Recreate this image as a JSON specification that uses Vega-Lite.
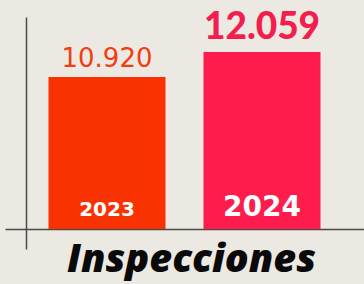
{
  "$schema": "https://vega.github.io/schema/vega-lite/v6.json",
  "width": 359,
  "height": 284,
  "autosize": {"type": "none"},
  "padding": {"left": 5, "top": 0, "right": 0, "bottom": 0},
  "background": "#ECE8E2",
  "data": {"values": [
    {"year": "2023", "value": 10920},
    {"year": "2024", "value": 12059}
  ]},
  "title": {
    "text": "Inspecciones",
    "orient": "bottom",
    "anchor": "middle",
    "frame": "group",
    "font": "Open Sans",
    "fontSize": 39.5,
    "fontWeight": 800,
    "fontStyle": "italic",
    "color": "#0a0a0a",
    "baseline": "alphabetic",
    "offset": -12,
    "dx": 7
  },
  "encoding": {
    "x": {
      "field": "year",
      "type": "nominal",
      "scale": {"paddingInner": 0.2452, "paddingOuter": 0.2806},
      "axis": {"domain": true, "ticks": false, "labels": false, "grid": false, "title": null, "offset": -55, "domainColor": "#4a4a4a", "domainWidth": 1.5}
    }
  },
  "layer": [
    {
      "mark": {"type": "bar"},
      "encoding": {
        "y": {
          "field": "value",
          "type": "quantitative",
          "scale": {"domain": [3089.4, 13652.6], "range": [249, 17], "zero": false, "nice": false},
          "axis": {"domain": true, "ticks": false, "labels": false, "grid": false, "title": null, "offset": -21, "domainColor": "#4a4a4a", "domainWidth": 1.5}
        },
        "y2": {"datum": 4000},
        "color": {
          "field": "year",
          "type": "nominal",
          "scale": {"domain": ["2023", "2024"], "range": ["#F83200", "#FD1C4C"]},
          "legend": null
        }
      }
    },
    {
      "transform": [{"filter": "datum.year == '2023'"}],
      "mark": {"type": "text", "font": "DejaVu Sans", "fontSize": 26, "baseline": "alphabetic", "dy": -10, "color": "#F23C12"},
      "encoding": {
        "y": {"field": "value", "type": "quantitative"},
        "text": {"field": "value", "type": "quantitative", "format": ",d"}
      }
    },
    {
      "transform": [{"filter": "datum.year == '2024'"}],
      "mark": {"type": "text", "font": "Lato", "fontSize": 37, "fontWeight": 900, "baseline": "alphabetic", "dy": -13, "color": "#F21E4E"},
      "encoding": {
        "y": {"field": "value", "type": "quantitative"},
        "text": {"field": "value", "type": "quantitative", "format": ",d"}
      }
    },
    {
      "transform": [{"filter": "datum.year == '2023'"}],
      "mark": {"type": "text", "font": "DejaVu Sans", "fontSize": 20, "fontWeight": "bold", "baseline": "alphabetic", "dy": -13, "color": "#FFFFFF"},
      "encoding": {
        "y": {"datum": 4000},
        "text": {"field": "year", "type": "nominal"}
      }
    },
    {
      "transform": [{"filter": "datum.year == '2024'"}],
      "mark": {"type": "text", "font": "DejaVu Sans", "fontSize": 28, "fontWeight": "bold", "baseline": "alphabetic", "dy": -13, "color": "#FFFFFF"},
      "encoding": {
        "y": {"datum": 4000},
        "text": {"field": "year", "type": "nominal"}
      }
    }
  ],
  "config": {
    "view": {"stroke": null},
    "locale": {"number": {"decimal": ",", "thousands": ".", "grouping": [3], "currency": ["", " €"]}}
  }
}
